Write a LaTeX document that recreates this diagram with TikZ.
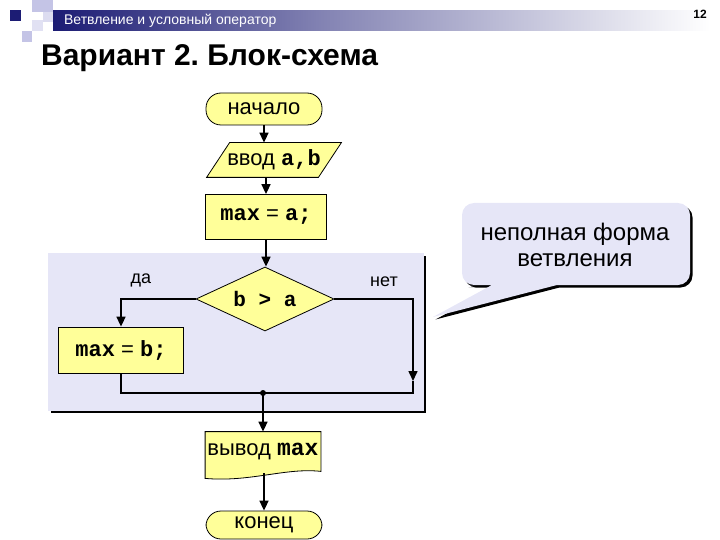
\documentclass[tikz,border=0pt]{standalone}
\usepackage{fontspec}
\setmainfont{Liberation Sans}
\setmonofont{Liberation Mono}
\usetikzlibrary{arrows.meta, positioning, shapes.geometric, calc, backgrounds}
\definecolor{cyellow}{HTML}{FFFF99}
\definecolor{clav}{HTML}{E6E6F7}
\definecolor{cnavy}{HTML}{1C1C74}
\definecolor{csq}{HTML}{C4C4E6}
\newcommand{\code}[1]{{\ttfamily\bfseries #1}}
\tikzset{
  every picture/.style={line width=1.6pt},
  blk/.style={draw=black, line width=0.8pt, fill=cyellow, align=center, inner sep=0pt,
              font=\fontsize{22}{26}\selectfont},
  term/.style={blk, rounded corners=15pt},
  bare/.style={blk, draw=none, fill=none},
  outline/.style={draw=black, line width=0.8pt, fill=cyellow},
  arrow/.style={-{Triangle[length=10pt, width=9pt]}, line width=1.6pt},
  line/.style={line width=1.6pt},
  label/.style={font=\fontsize{18}{20}\selectfont},
  note/.style={font=\fontsize{24}{26}\selectfont, align=center},
}

\begin{document}
\frenchspacing
\begin{tikzpicture}[x=1pt, y=-1pt]
  \useasboundingbox (0,0) rectangle (720,540);
  % slide header
  \foreach \xa/\ya/\xb/\yb/\col in {32/0/53/12/csq, 43/12/53/22/csq!60, 32/20/43/31/csq!50, 22/31/32/42/csq}
    \fill[\col] (\xa,\ya) rectangle (\xb,\yb);
  \fill[cnavy] (10,10) rectangle (21,21);
  \shade[left color=cnavy, right color=cnavy!55!white, draw=none] (53,11) rectangle (320,31);
  \shade[left color=cnavy!55!white, right color=white, draw=none] (319.5,11) rectangle (710,31);
  \node[anchor=west, text=white, font=\fontsize{14}{16}\selectfont] (head) at (60,21) {Ветвление и условный оператор};
  \node[font=\bfseries\fontsize{12}{14}\selectfont] (page) at (700,14) {12};
  \node[anchor=base west, font=\bfseries\fontsize{30}{34}\selectfont] (title) at (37,66) {Вариант 2. Блок-схема};
  % shaded area round the branching
  \fill[black] (50.5,255.5) rectangle (426,413);
  \fill[clav] (48,253) rectangle (423.5,410.5);
  % callout
  \foreach \s/\col in {2.5/black, 0/clav}
    \fill[\col, shift={(\s,\s)}] (557,285) [rounded corners=12pt] -- (690,285) -- (690,203)
      -- (462,203) -- (462,285) -- (478,285) [sharp corners] -- (492,285) -- (433,317) -- cycle;
  \node[note] (remark) at (575,245) {неполная форма\\ветвления};
  % flowchart blocks
  \node[term, minimum width=116pt, minimum height=32pt] (start) at (264,109) {начало};
  \node[bare, minimum width=134pt, minimum height=34pt] (input) at (274,160) {ввод \code{a,b}};
  \node[blk, minimum width=121pt, minimum height=45pt] (init) at (266,217) {\code{max} = \code{a;}};
  \node[blk, diamond, aspect=2.15, minimum width=138pt, minimum height=64pt] (cond) at (265,299)
        {\code{\fontsize{21}{24}\selectfont b > a}};
  \node[blk, minimum width=125pt, minimum height=46pt] (assign) at (121,350) {\code{max} = \code{b;}};
  \node[label] (yes) at (141,280) {да};
  \node[label] (no) at (384,282) {нет};
  \node[bare, minimum width=115pt, minimum height=39pt] (output) at (263,451.5)
        {вывод \code{\fontsize{23}{26}\selectfont max}};
  \node[term, minimum width=116pt, minimum height=28pt] (stop) at (264,525) {конец};
  % parallelogram and document shape behind their texts
  \begin{scope}[on background layer]
    \draw[outline] (input.south west) -- ([xshift=-23pt]input.south east) -- (input.north east)
      -- ([xshift=23pt]input.north west) -- cycle;
    \draw[outline] (output.north west) -- (output.north east) -- (output.south east)
      .. controls +(-35,-4) and +(45,4) .. ([yshift=-7pt]output.south west) -- cycle;
  \end{scope}
  % connectors
  \coordinate (nodown) at (413,381);
  \coordinate (nojoin) at (413,393);
  \coordinate (join) at (263,393);
  \draw[arrow] (start.south) -- (start.south |- input.north);
  \draw[arrow] (input.south -| init.north) -- (init.north);
  \draw[arrow] (init.south) -- (init.south |- cond.north);
  \draw[arrow] (cond.west) -| (assign.north);
  \draw[arrow] (cond.east) -| (nodown);
  \draw[line] (assign.south) |- (nojoin) -- (nodown);
  \fill (join) circle (3pt);
  \draw[arrow] (join) -- (join |- output.north);
  \draw[arrow] (output.south -| stop.north) ++(0,2) -- (stop.north);
\end{tikzpicture}
\end{document}
